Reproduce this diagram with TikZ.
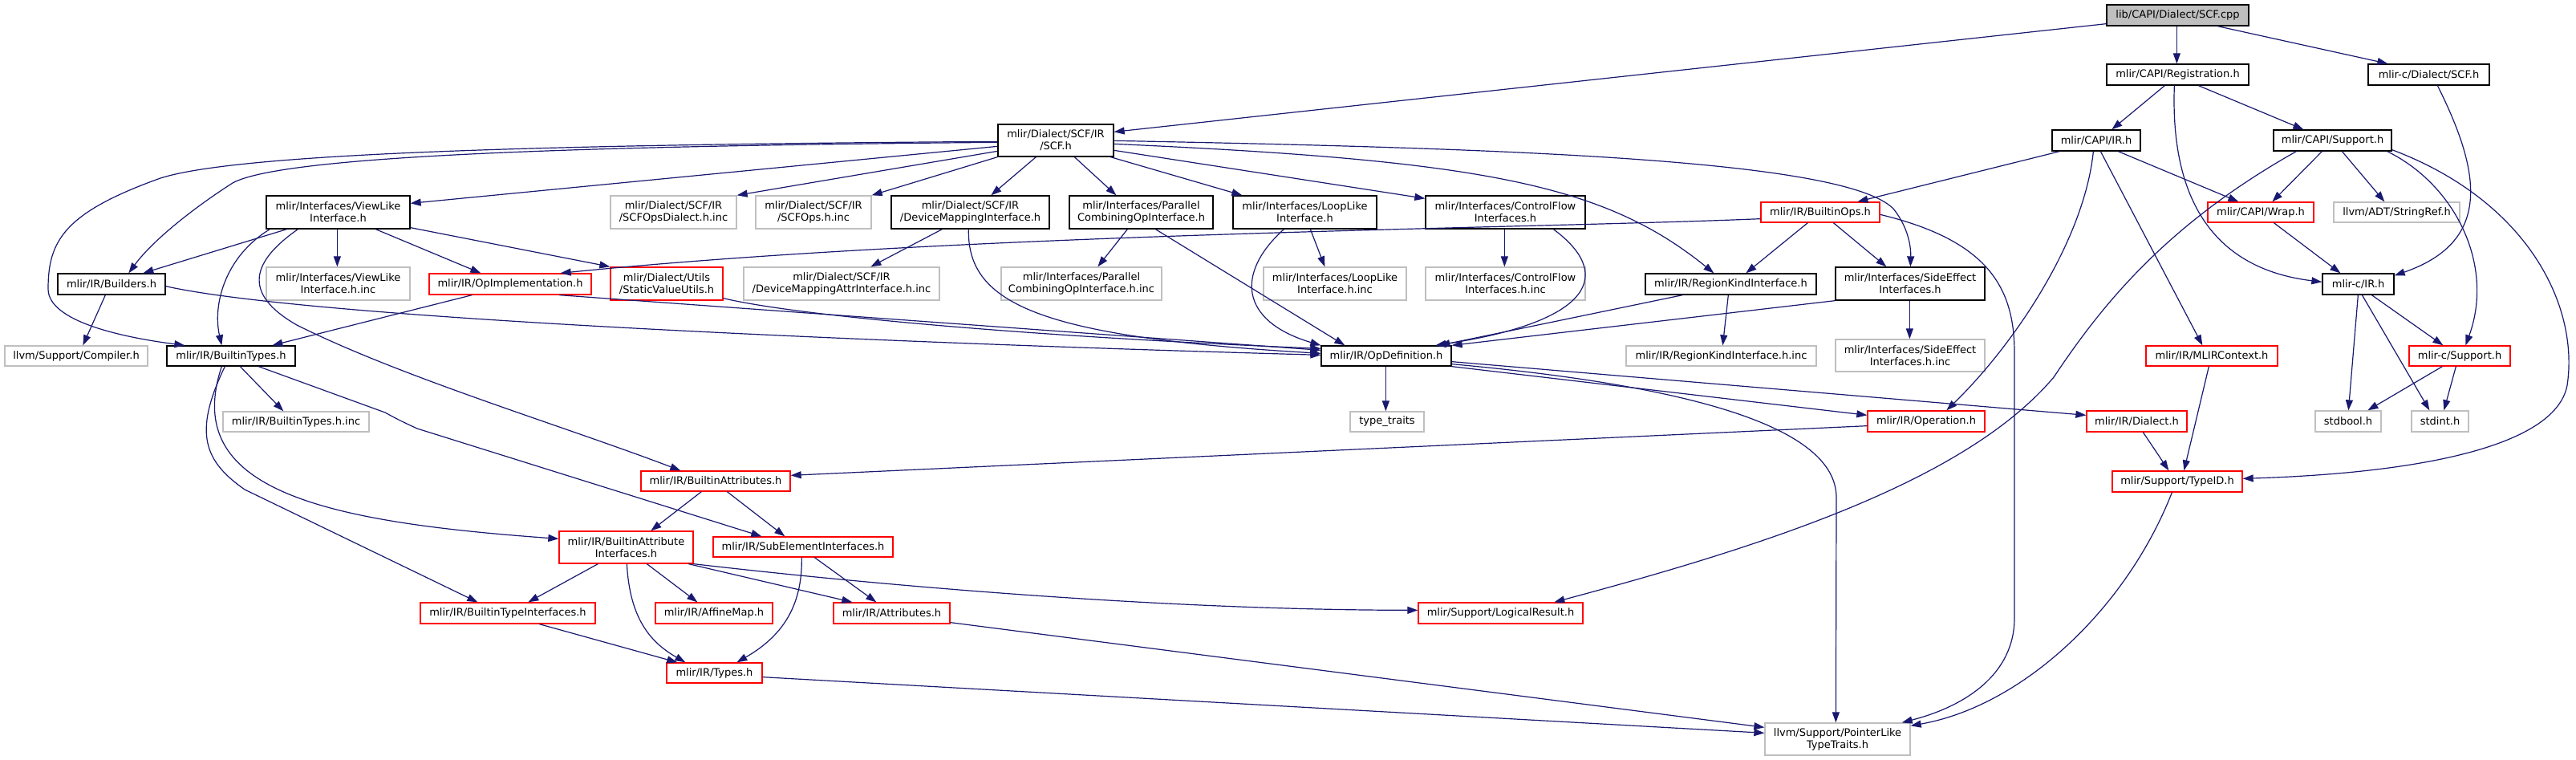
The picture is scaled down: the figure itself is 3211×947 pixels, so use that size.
\documentclass[tikz,border=0pt]{standalone}
\usepackage{fontspec}
\setmainfont{DejaVu Sans}
\usetikzlibrary{arrows.meta}
\definecolor{edgecol}{HTML}{191970}
\definecolor{gray75}{HTML}{BFBFBF}
\newcommand{\fs}{\fontsize{13}{15}\selectfont}
\newcommand{\bx}[7]{\node[#6, minimum width={#4-#2}, minimum height={#5-#3}] (#1) at ({(#2+#4)/2},{-(#3+#5)/2}) {#7};}
\tikzset{
  nb/.style={draw=black, fill=white, line width=1.3pt, inner sep=0pt, align=center, font=\fs},
  ng/.style={nb, draw=gray75},
  nr/.style={nb, draw=red},
  nroot/.style={nb, fill=gray75},
  e/.style={draw=edgecol, line width=1.2pt, -{Triangle[length=13pt,width=9pt]}}
}
\begin{document}
\begin{tikzpicture}[x=1pt,y=1pt]
\fill[white] (0,0) rectangle (3211,-947);
\useasboundingbox (0,0) rectangle (3211,-947);
% nodes
\bx{cpp}{2626}{6}{2803}{32}{nroot}{lib/CAPI/Dialect/SCF.cpp}
\bx{reg}{2626}{80}{2803}{106}{nb}{mlir/CAPI/Registration.h}
\bx{cscf}{2952}{80}{3103}{106}{nb}{mlir-c/Dialect/SCF.h}
\bx{scfh}{1244}{155}{1388}{195}{nb}{mlir/Dialect/SCF/IR\\/SCF.h}
\bx{capiir}{2558}{162}{2668}{188}{nb}{mlir/CAPI/IR.h}
\bx{capisup}{2834}{162}{2981}{188}{nb}{mlir/CAPI/Support.h}
\bx{viewlike}{332}{244}{511}{285}{nb}{mlir/Interfaces/ViewLike\\Interface.h}
\bx{opsdial}{761}{244}{918}{285}{ng}{mlir/Dialect/SCF/IR\\/SCFOpsDialect.h.inc}
\bx{scfops}{942}{244}{1086}{285}{ng}{mlir/Dialect/SCF/IR\\/SCFOps.h.inc}
\bx{devmap}{1111}{244}{1308}{285}{nb}{mlir/Dialect/SCF/IR\\/DeviceMappingInterface.h}
\bx{parallel}{1333}{244}{1512}{285}{nb}{mlir/Interfaces/Parallel\\CombiningOpInterface.h}
\bx{looplike}{1537}{244}{1716}{285}{nb}{mlir/Interfaces/LoopLike\\Interface.h}
\bx{ctrlflow}{1777}{244}{1976}{285}{nb}{mlir/Interfaces/ControlFlow\\Interfaces.h}
\bx{builtinops}{2195}{252}{2343}{277}{nr}{mlir/IR/BuiltinOps.h}
\bx{wrap}{2752}{252}{2884}{277}{nr}{mlir/CAPI/Wrap.h}
\bx{stringref}{2909}{252}{3066}{277}{ng}{llvm/ADT/StringRef.h}
\bx{builders}{72}{341}{206}{367}{nb}{mlir/IR/Builders.h}
\bx{viewinc}{332}{333}{511}{374}{ng}{mlir/Interfaces/ViewLike\\Interface.h.inc}
\bx{opimpl}{535}{341}{737}{367}{nr}{mlir/IR/OpImplementation.h}
\bx{staticval}{761}{333}{901}{374}{nr}{mlir/Dialect/Utils\\/StaticValueUtils.h}
\bx{devmapinc}{927}{333}{1171}{374}{ng}{mlir/Dialect/SCF/IR\\/DeviceMappingAttrInterface.h.inc}
\bx{parinc}{1248}{333}{1448}{374}{ng}{mlir/Interfaces/Parallel\\CombiningOpInterface.h.inc}
\bx{loopinc}{1575}{333}{1753}{374}{ng}{mlir/Interfaces/LoopLike\\Interface.h.inc}
\bx{ctrlinc}{1777}{333}{1976}{374}{ng}{mlir/Interfaces/ControlFlow\\Interfaces.h.inc}
\bx{regionkind}{2051}{341}{2264}{367}{nb}{mlir/IR/RegionKindInterface.h}
\bx{sideeff}{2288}{333}{2474}{374}{nb}{mlir/Interfaces/SideEffect\\Interfaces.h}
\bx{cir}{2895}{341}{2984}{367}{nb}{mlir-c/IR.h}
\bx{compiler}{6}{431}{184}{456}{ng}{llvm/Support/Compiler.h}
\bx{btypes}{208}{431}{368}{456}{nb}{mlir/IR/BuiltinTypes.h}
\bx{opdef}{1647}{431}{1809}{456}{nb}{mlir/IR/OpDefinition.h}
\bx{regioninc}{2027}{431}{2264}{456}{ng}{mlir/IR/RegionKindInterface.h.inc}
\bx{sideinc}{2288}{423}{2474}{463}{ng}{mlir/Interfaces/SideEffect\\Interfaces.h.inc}
\bx{mlirctx}{2675}{431}{2839}{456}{nr}{mlir/IR/MLIRContext.h}
\bx{csup}{3003}{431}{3129}{456}{nr}{mlir-c/Support.h}
\bx{btinc}{278}{513}{460}{538}{ng}{mlir/IR/BuiltinTypes.h.inc}
\bx{typetraits}{1683}{513}{1775}{538}{ng}{type\_traits}
\bx{operation}{2328}{512}{2474}{538}{nr}{mlir/IR/Operation.h}
\bx{dialect}{2601}{512}{2726}{538}{nr}{mlir/IR/Dialect.h}
\bx{stdbool}{2886}{512}{2968}{538}{ng}{stdbool.h}
\bx{stdint}{3006}{512}{3077}{538}{ng}{stdint.h}
\bx{battrs}{799}{587}{985}{612}{nr}{mlir/IR/BuiltinAttributes.h}
\bx{typeid}{2633}{587}{2795}{613}{nr}{mlir/Support/TypeID.h}
\bx{bai}{697}{662}{864}{702}{nr}{mlir/IR/BuiltinAttribute\\Interfaces.h}
\bx{subel}{889}{669}{1113}{694}{nr}{mlir/IR/SubElementInterfaces.h}
\bx{bti}{524}{751}{742}{777}{nr}{mlir/IR/BuiltinTypeInterfaces.h}
\bx{affine}{817}{751}{963}{777}{nr}{mlir/IR/AffineMap.h}
\bx{attrs}{1039}{751}{1184}{777}{nr}{mlir/IR/Attributes.h}
\bx{logical}{1768}{751}{1973}{777}{nr}{mlir/Support/LogicalResult.h}
\bx{types}{831}{826}{950}{851}{nr}{mlir/IR/Types.h}
\bx{ptrlike}{2200}{901}{2381}{941}{ng}{llvm/Support/PointerLike\\TypeTraits.h}
% edges: cpp
\draw[e] ([yshift=3]cpp.south west) -- ([yshift=-10]scfh.north east);
\draw[e] ([xshift=88]cpp.south west) -- ([xshift=88]reg.north west);
\draw[e] ([xshift=139]cpp.south west) -- ([xshift=25]cscf.north west);
% reg
\draw[e] ([xshift=73]reg.south west) -- ([xshift=75]capiir.north west);
\draw[e] ([xshift=115]reg.south west) -- ([xshift=38]capisup.north west);
\draw[e] ([xshift=85]reg.south west) .. controls (2705,-250) and (2760,-335) .. ([yshift=-11]cir.north west);
% cscf
\draw[e] ([xshift=87]cscf.south west) .. controls (3090,-210) and (3110,-300) .. ([yshift=-3]cir.north east);
% capiir
\draw[e] ([xshift=10]capiir.south west) -- ([xshift=121]builtinops.north west);
\draw[e] ([xshift=83]capiir.south west) -- ([xshift=39]wrap.north west);
\draw[e] ([xshift=61]capiir.south west) -- ([xshift=71]mlirctx.north west);
\draw[e] ([xshift=52]capiir.south west) .. controls (2598,-300) and (2510,-430) .. ([xshift=99]operation.north west);
% capisup
\draw[e] ([xshift=61]capisup.south west) -- ([xshift=81]wrap.north west);
\draw[e] ([xshift=86]capisup.south west) -- ([xshift=64]stringref.north west);
\draw[e] ([xshift=-6]capisup.south east) .. controls (3060,-230) and (3110,-330) .. ([xshift=71]csup.north west);
\draw[e] ([yshift=2]capisup.south east) .. controls (3150,-250) and (3215,-380) .. (3200,-480) .. controls (3185,-560) and (3000,-590) .. ([yshift=-10]typeid.north east);
\draw[e] ([xshift=29]capisup.south west) .. controls (2700,-280) and (2620,-380) .. (2560,-470) .. controls (2450,-600) and (2200,-680) .. ([xshift=170]logical.north west);
% wrap, cir, csup
\draw[e] ([xshift=83]wrap.south west) -- ([xshift=23]cir.north west);
\draw[e] ([xshift=45]cir.south west) -- ([xshift=42]stdbool.north west);
\draw[e] ([xshift=50]cir.south west) -- ([xshift=23]stdint.north west);
\draw[e] ([xshift=62]cir.south west) -- ([xshift=43]csup.north west);
\draw[e] ([xshift=42]csup.south west) -- ([xshift=66]stdbool.north west);
\draw[e] ([xshift=59]csup.south west) -- ([xshift=41]stdint.north west);
% typeid
\draw[e] ([xshift=79]mlirctx.south west) -- ([xshift=90]typeid.north west);
\draw[e] ([xshift=71]dialect.south west) -- ([xshift=71]typeid.north west);
\draw[e] ([xshift=75]typeid.south west) .. controls (2650,-760) and (2520,-880) .. ([yshift=-4]ptrlike.north east);
% builtinops
\draw[e] ([xshift=59]builtinops.south west) -- ([xshift=126]regionkind.north west);
\draw[e] ([xshift=91]builtinops.south west) -- ([xshift=64]sideeff.north west);
\draw[e] ([yshift=5]builtinops.south west) .. controls (1900,-285) and (1200,-290) .. ([xshift=-39]opimpl.north east);
\draw[e] ([yshift=-16]builtinops.north east) .. controls (2480,-300) and (2511,-360) .. (2511,-440) -- (2511,-770) .. controls (2511,-840) and (2450,-880) .. ([xshift=-11]ptrlike.north east);
% regionkind, sideeff
\draw[e] ([xshift=104]regionkind.south west) -- ([xshift=121]regioninc.north west);
\draw[e] ([xshift=47]regionkind.south west) -- ([xshift=148]opdef.north west);
\draw[e] ([xshift=93]sideeff.south west) -- ([xshift=93]sideinc.north west);
\draw[e] (sideeff.south west) -- (opdef.north east);
% ctrlflow, looplike, parallel, devmap
\draw[e] ([xshift=99]ctrlflow.south west) -- ([xshift=99]ctrlinc.north west);
\draw[e] ([xshift=160]ctrlflow.south west) .. controls (2010,-340) and (1990,-400) .. ([xshift=143]opdef.north west);
\draw[e] ([xshift=97]looplike.south west) -- ([xshift=77]loopinc.north west);
\draw[e] ([xshift=64]looplike.south west) .. controls (1540,-340) and (1545,-400) .. (opdef.north west);
\draw[e] ([xshift=73]parallel.south west) -- ([xshift=121]parinc.north west);
\draw[e] ([xshift=108]parallel.south west) -- ([xshift=30]opdef.north west);
\draw[e] ([xshift=64]devmap.south west) -- ([xshift=159]devmapinc.north west);
\draw[e] ([xshift=97]devmap.south west) .. controls (1205,-380) and (1300,-420) .. ([yshift=-10]opdef.north west);
% scfh
\draw[e] ([yshift=-28]scfh.north west) -- ([yshift=-10]viewlike.north east);
\draw[e] ([yshift=-34]scfh.north west) -- (opsdial.north east);
\draw[e] (scfh.south west) -- (scfops.north east);
\draw[e] ([xshift=48]scfh.south west) -- ([xshift=125]devmap.north west);
\draw[e] ([xshift=96]scfh.south west) -- ([xshift=59]parallel.north west);
\draw[e] ([xshift=141]scfh.south west) -- ([xshift=12]looplike.north west);
\draw[e] ([yshift=-33]scfh.north east) -- ([yshift=-4]ctrlflow.north west);
\draw[e] ([yshift=-25]scfh.north east) .. controls (1850,-200) and (2000,-230) .. ([xshift=86]regionkind.north west);
\draw[e] ([yshift=-21]scfh.north east) .. controls (1900,-185) and (2300,-200) .. (2360,-260) .. controls (2380,-285) and (2382,-310) .. ([xshift=94]sideeff.north west);
\draw[e] ([yshift=-22]scfh.north west) .. controls (700,-180) and (300,-190) .. (200,-222) .. controls (80,-265) and (60,-300) .. (60,-360) .. controls (60,-400) and (150,-420) .. ([xshift=23]btypes.north west);
\draw[e] ([yshift=-23]scfh.north west) .. controls (700,-182) and (350,-195) .. (290,-228) .. controls (240,-260) and (190,-300) .. ([xshift=89]builders.north west);
% viewlike
\draw[e] ([xshift=26]viewlike.south west) -- ([xshift=107]builders.north west);
\draw[e] ([xshift=89]viewlike.south west) -- ([xshift=89]viewinc.north west);
\draw[e] ([xshift=137]viewlike.south west) -- ([xshift=65]opimpl.north west);
\draw[e] ([yshift=2]viewlike.south east) -- (staticval.north west);
\draw[e] ([xshift=5]viewlike.south west) .. controls (280,-320) and (265,-380) .. ([xshift=69]btypes.north west);
\draw[e] ([xshift=40]viewlike.south west) .. controls (315,-325) and (300,-365) .. (370,-405) .. controls (500,-470) and (700,-530) .. ([xshift=50]battrs.north west);
% builders, opimpl, staticval
\draw[e] ([xshift=60]builders.south west) -- ([xshift=98]compiler.north west);
\draw[e] ([yshift=11]builders.south east) .. controls (400,-400) and (1200,-430) .. ([yshift=-12]opdef.north west);
\draw[e] ([xshift=54]opimpl.south west) -- ([xshift=132]btypes.north west);
\draw[e] ([xshift=163]opimpl.south west) -- ([yshift=-6]opdef.north west);
\draw[e] ([yshift=3]staticval.south east) .. controls (1000,-395) and (1300,-420) .. ([yshift=-4]opdef.north west);
% btypes
\draw[e] ([xshift=92]btypes.south west) -- ([xshift=76]btinc.north west);
\draw[e] ([xshift=115]btypes.south west) -- (480,-514) .. controls (500,-525) and (505,-527) .. (520,-534) -- ([xshift=61]subel.north west);
\draw[e] ([xshift=69]btypes.south west) .. controls (225,-610) and (400,-650) .. ([yshift=-10]bai.north west);
\draw[e] ([xshift=73]btypes.south west) .. controls (240,-540) and (255,-575) .. (305,-610) -- ([xshift=72]bti.north west);
% opdef
\draw[e] ([xshift=81]opdef.south west) -- ([xshift=45]typetraits.north west);
\draw[e] (opdef.south east) -- ([yshift=-6]operation.north west);
\draw[e] ([yshift=6]opdef.south east) -- ([yshift=-6]dialect.north west);
\draw[e] ([yshift=3]opdef.south east) .. controls (2100,-480) and (2289,-530) .. (2289,-620) -- ([xshift=89]ptrlike.north west);
% operation, battrs
\draw[e] ([yshift=8]operation.south west) -- ([yshift=-6]battrs.north east);
\draw[e] ([xshift=76]battrs.south west) -- ([xshift=115]bai.north west);
\draw[e] ([xshift=108]battrs.south west) -- ([xshift=90]subel.north west);
% bai
\draw[e] ([xshift=49]bai.south west) -- ([xshift=135]bti.north west);
\draw[e] ([xshift=85]bai.south west) .. controls (785,-770) and (810,-800) .. ([xshift=24]types.north west);
\draw[e] ([xshift=110]bai.south west) -- ([xshift=53]affine.north west);
\draw[e] ([xshift=162]bai.south west) -- ([xshift=24]attrs.north west);
\draw[e] (bai.south east) .. controls (1100,-730) and (1450,-760) .. ([yshift=-10]logical.north west);
% subel, bti
\draw[e] ([xshift=127]subel.south west) -- ([xshift=54]attrs.north west);
\draw[e] ([xshift=111]subel.south west) .. controls (1000,-750) and (980,-790) .. ([xshift=88]types.north west);
\draw[e] ([xshift=149]bti.south west) -- ([xshift=14]types.north west);
% to ptrlike
\draw[e] ([yshift=2]attrs.south east) -- ([yshift=-6]ptrlike.north west);
\draw[e] ([yshift=8]types.south east) -- ([yshift=-13]ptrlike.north west);
\end{tikzpicture}
\end{document}
